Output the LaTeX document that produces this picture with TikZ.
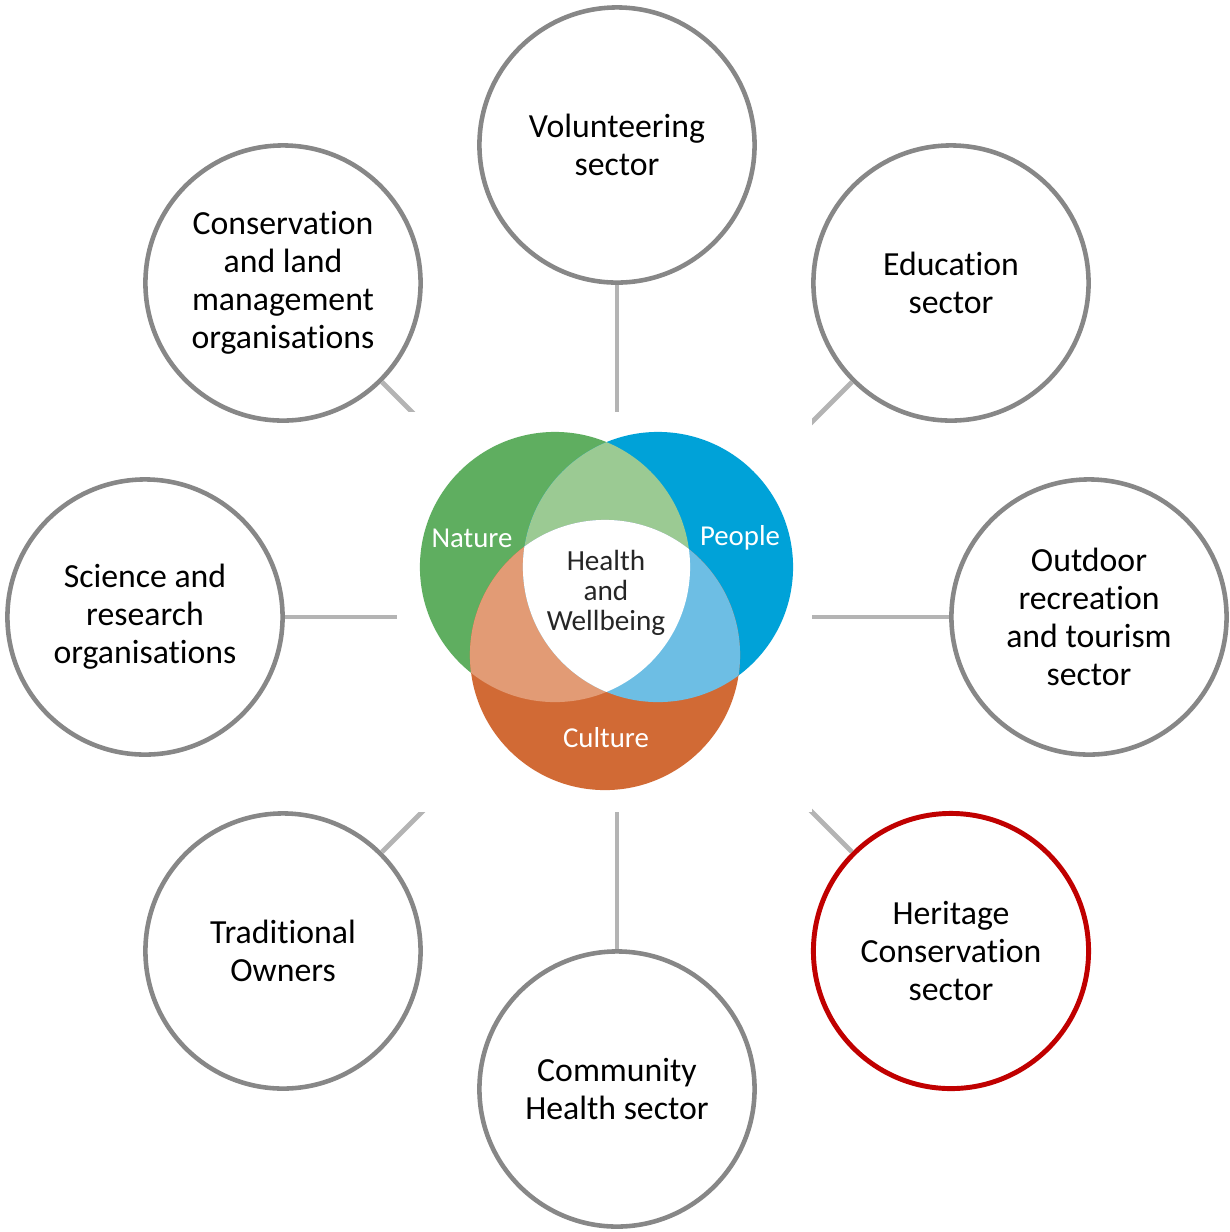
\documentclass[tikz,border=0pt]{standalone}
\usepackage{fontspec}
\setmainfont{Carlito}[Ligatures=NoCommon]
\usetikzlibrary{positioning}

\definecolor{ringgray}{HTML}{878787}
\definecolor{linkgray}{HTML}{B4B4B4}
\definecolor{herired}{HTML}{C00000}
\definecolor{natgreen}{HTML}{5FAE60}
\definecolor{natgreenlt}{HTML}{9BCA93}
\definecolor{peopleblue}{HTML}{00A2D8}
\definecolor{peoplebluelt}{HTML}{6DBEE4}
\definecolor{cultorange}{HTML}{D16A35}
\definecolor{cultorangelt}{HTML}{E29B75}

\begin{document}
\begin{tikzpicture}[x = 0.01cm, y = -0.01cm,
  sector/.style = {circle, draw = ringgray, line width = 1.3pt, fill = white,
    minimum size = 2.75cm, inner sep = 0pt, align = center,
    font = \fontsize{9.6}{10.8}\selectfont},
  link/.style = {draw = linkgray, line width = 1.4pt},
  vlabel/.style = {text = white, font = \fontsize{8.2}{8.5}\selectfont},
  hwlabel/.style = {text = black!85, align = center, font = \fontsize{8.3}{8.5}\selectfont}]
\useasboundingbox (0,0) rectangle (1230,1232);

\coordinate (hub) at (617,617);

% the eight sectors round the hub
\node[sector] (vol) at (617,145) {Volunteering\\sector};
\node[sector] (edu) at (951,283) {Education\\sector};
\node[sector] (out) at (1089,617) {Outdoor\\recreation\\and tourism\\sector};
\node[sector, draw = herired, line width = 1.4pt] (her) at (951,951) {Heritage\\Conservation\\sector};
\node[sector] (com) at (617,1089) {Community\\Health sector};
\node[sector] (tra) at (283,951) {Traditional\\Owners};
\node[sector] (sci) at (145,617) {Science and\\research\\organisations};
\node[sector] (con) at (283,283) {Conservation\\and land\\management\\organisations};

\path[link] (vol) edge (hub)
            (edu) edge (hub)
            (out) edge (hub)
            (her) edge (hub)
            (com) edge (hub)
            (tra) edge (hub)
            (sci) edge (hub)
            (con) edge (hub);

% white panel behind the venn
\fill[white] (397,412) rectangle (812,812);

% venn
\coordinate (gc) at (555,567);
\coordinate (bc) at (658,567);
\coordinate (oc) at (605,655);
\fill[natgreen] (gc) circle (1.35cm);
\fill[peopleblue] (bc) circle (1.35cm);
\fill[cultorange] (oc) circle (1.35cm);
\begin{scope}
  \clip (gc) circle (1.35cm);
  \fill[natgreenlt] (bc) circle (1.35cm);
  \fill[cultorangelt] (oc) circle (1.35cm);
\end{scope}
\begin{scope}
  \clip (bc) circle (1.35cm);
  \fill[peoplebluelt] (oc) circle (1.35cm);
\end{scope}
\begin{scope}
  \clip (gc) circle (1.35cm);
  \clip (bc) circle (1.35cm);
  \fill[white] (oc) circle (1.35cm);
\end{scope}

\node[vlabel] (nat) at (472,538) {Nature};
\node[vlabel] (peo) at (740,538) {People};
\node[vlabel] (cul) at (606,738) {Culture};
\node[hwlabel] (hw) at (606,593) {Health\\and\\Wellbeing};
\end{tikzpicture}
\end{document}
